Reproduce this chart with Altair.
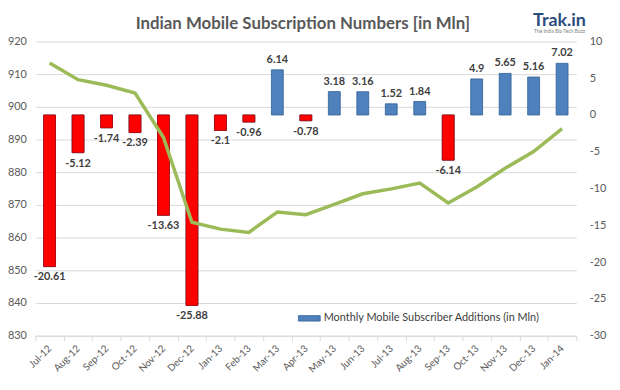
import altair as alt
import pandas as pd

months = ["Jul-12", "Aug-12", "Sep-12", "Oct-12", "Nov-12", "Dec-12", "Jan-13", "Feb-13",
          "Mar-13", "Apr-13", "May-13", "Jun-13", "Jul-13", "Aug-13", "Sep-13", "Oct-13",
          "Nov-13", "Dec-13", "Jan-14"]
additions = [-20.61, -5.12, -1.74, -2.39, -13.63, -25.88, -2.1, -0.96, 6.14, -0.78,
             3.18, 3.16, 1.52, 1.84, -6.14, 4.9, 5.65, 5.16, 7.02]
totals = [913.4, 908.3, 906.6, 904.2, 890.6, 864.7, 862.6, 861.6, 867.8, 867.0,
          870.2, 873.4, 874.9, 876.7, 870.6, 875.5, 881.2, 886.3, 893.3]
left_ticks = [830, 840, 850, 860, 870, 880, 890, 900, 910, 920]
right_ticks = [-30, -25, -20, -15, -10, -5, 0, 5, 10]
series_name = "Monthly Mobile Subscriber Additions (in Mln)"
title_text = "Indian Mobile Subscription Numbers [in Mln]"

df = pd.DataFrame({
    "month": months,
    "add": additions,
    "total": totals,
    "series": [series_name] * len(months),
})

FONT = "Lato"
GRID = "#D9D9D9"
LABEL = "#595959"

x_enc = alt.X(
    "month:N", sort=months, title=None,
    scale=alt.Scale(paddingInner=0, paddingOuter=0),
    axis=alt.Axis(labelAngle=-45, labelAlign="right", labelBaseline="middle",
                  labelFont=FONT, labelFontSize=10, labelColor=LABEL, labelPadding=6,
                  domainColor=GRID, tickColor=GRID, tickSize=5, tickBand="extent",
                  grid=False),
)

y_add = alt.Y("add:Q", title=None,
              scale=alt.Scale(domain=[-30, 10], nice=False, zero=False),
              axis=alt.Axis(orient="right", values=right_ticks, grid=False, domain=False,
                            ticks=False, labelFont=FONT, labelFontSize=11,
                            labelColor=LABEL, labelPadding=13, labelOverlap=False,
                            labelFlush=False, tickCount=9,
                            labelExpr="'' + datum.value"))

base = alt.Chart(df).transform_calculate(lbl="'' + datum.add")

bars = base.mark_bar(size=12, strokeWidth=0.8, stroke="#2F5F98").encode(
    x=x_enc,
    y=y_add,
    y2=alt.datum(0),
    color=alt.Color("series:N", title=None,
                    scale=alt.Scale(domain=[series_name], range=["#4F81BD"]),
                    legend=alt.Legend(orient="none", legendX=265, legendY=268,
                                      symbolType="M-1,-0.25H1V0.25H-1Z", symbolSize=484,
                                      symbolStrokeColor="#2F5F98", symbolStrokeWidth=0.8,
                                      labelFont=FONT, labelFontSize=11, labelLimit=400,
                                      labelColor="#404040", padding=0, labelOffset=3)),
)

bars_neg = base.transform_filter(alt.datum.add < 0).mark_bar(
    size=12, strokeWidth=0.8, fill="#FF0000", stroke="#B00000"
).encode(x=x_enc, y=y_add, y2=alt.datum(0))

text_neg = base.transform_filter(alt.datum.add < 0).mark_text(
    baseline="top", dy=5, font=FONT, fontSize=11, fontWeight="bold", color="#404040"
).encode(x=x_enc, y=y_add, text=alt.Text("lbl:N"))

text_pos = base.transform_filter(alt.datum.add >= 0).mark_text(
    baseline="bottom", dy=-5, font=FONT, fontSize=11, fontWeight="bold", color="#404040"
).encode(x=x_enc, y=y_add, text=alt.Text("lbl:N"))

bar_group = alt.layer(bars, bars_neg, text_neg, text_pos)

line = base.mark_line(color="#9BBB59", strokeWidth=3.5).encode(
    x=x_enc,
    y=alt.Y("total:Q", title=None,
            scale=alt.Scale(domain=[830, 920], nice=False, zero=False),
            axis=alt.Axis(orient="left", values=left_ticks, grid=True, gridColor=GRID,
                          domain=False, ticks=False, labelFont=FONT, labelFontSize=11,
                          labelColor=LABEL, labelPadding=9)),
)

logo_df = pd.DataFrame({"t": ["Trak.in"], "s": ["The India Biz-Tech Buzz"], "h": [title_text]})
title_mark = alt.Chart(logo_df).mark_text(
    font=FONT, fontSize=17, fontWeight="bold", color=LABEL, baseline="middle"
).encode(x=alt.value(270), y=alt.value(-18), text="h:N")
logo = alt.Chart(logo_df).mark_text(
    font=FONT, fontSize=18, fontWeight="bold", color="#2B4C7E", baseline="alphabetic"
).encode(x=alt.value(529), y=alt.value(-16), text="t:N")
logo_sub = alt.Chart(logo_df).mark_text(
    font=FONT, fontSize=5, color="#808080", baseline="middle"
).encode(x=alt.value(529), y=alt.value(-10), text="s:N")

chart = alt.layer(bar_group, line, title_mark, logo, logo_sub).resolve_scale(
    y="independent"
).properties(
    width=546, height=297,
    autosize=alt.AutoSizeParams(type="none"),
    padding={"left": 27.6, "top": 32, "right": 36, "bottom": 45},
).configure_view(stroke=None)

chart.save("out.html", embed_options={"renderer": "svg", "actions": False})
